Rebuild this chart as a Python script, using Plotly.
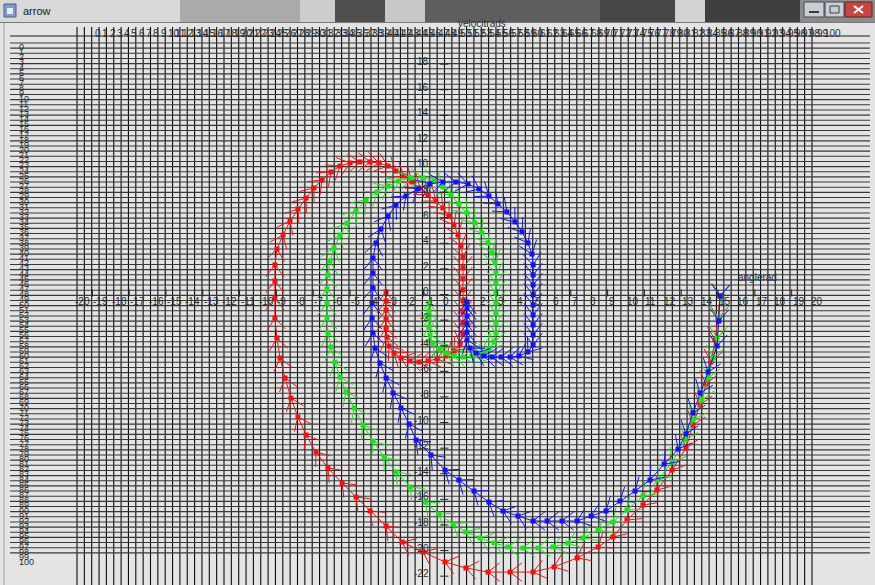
import math
import plotly.graph_objects as go

# Phase-space trajectories: angle (rad) against angular velocity (rad/s)
red_angle = [15.11, 15.0, 14.84, 14.62, 14.35, 14.02, 13.64, 13.26, 12.5, 11.68, 10.92, 10.05, 9.29, 8.48,
             7.34, 6.09, 4.95, 3.7, 2.5, 1.3, 0.16, -1.03, -2.17, -3.04, -3.91, -4.67, -5.43, -6.2, -6.85,
             -7.39, -7.83, -8.21, -8.53, -8.8, -8.97, -9.08, -9.08, -9.08, -9.08, -8.97, -8.64, -8.26, -7.83,
             -7.39, -6.96, -6.52, -6.03, -5.54, -5.0, -4.46, -3.91, -3.42, -2.93, -2.5, -2.07, -1.63, -1.2,
             -0.76, -0.33, 0.05, 0.38, 0.65, 0.87, 1.03, 1.14, 1.14, 1.14, 1.14, 1.14, 1.14, 1.14, 1.14,
             0.98, 0.65, 0.22, -0.27, -0.76, -1.25, -1.74, -2.23, -2.61, -2.88, -2.99, -3.04, -3.04, -3.04,
             -3.04, -3.04]
red_velocity = [-0.31, -2.03, -3.75, -5.47, -7.19, -8.83, -10.39, -12.19, -13.91, -15.47, -16.64, -17.81,
                -19.14, -19.92, -20.78, -21.48, -21.88, -21.88, -21.88, -21.56, -21.09, -20.31, -19.53,
                -18.28, -17.11, -16.02, -14.92, -13.75, -12.5, -11.17, -9.77, -8.28, -6.72, -5.16, -3.59,
                -2.03, -0.47, 0.86, 2.11, 3.36, 4.45, 5.55, 6.48, 7.34, 8.13, 8.75, 9.38, 9.84, 10.08, 10.16,
                10.16, 10.08, 9.84, 9.45, 9.06, 8.59, 8.13, 7.58, 7.11, 6.56, 5.94, 5.23, 4.45, 3.59, 2.73,
                1.88, 1.02, 0.16, -0.7, -1.56, -2.42, -3.28, -4.06, -4.61, -5.0, -5.23, -5.39, -5.47, -5.39,
                -5.16, -4.77, -4.22, -3.52, -2.81, -2.11, -1.41, -0.7, 0.0]

green_angle = [15.11, 15.05, 14.95, 14.73, 14.46, 14.13, 13.64, 13.21, 12.5, 11.74, 10.92, 10.05, 9.29,
               8.48, 7.66, 6.85, 6.03, 5.22, 4.4, 3.59, 2.83, 2.07, 1.3, 0.6, -0.16, -0.92, -1.74, -2.5,
               -3.15, -3.75, -4.29, -4.78, -5.22, -5.54, -5.82, -6.03, -6.2, -6.25, -6.25, -6.25, -6.2,
               -6.09, -5.87, -5.54, -5.16, -4.67, -4.13, -3.53, -2.93, -2.34, -1.68, -1.03, -0.43, 0.05,
               0.49, 0.92, 1.36, 1.79, 2.17, 2.5, 2.72, 2.88, 2.93, 2.93, 2.93, 2.93, 2.93, 2.93, 2.93,
               2.83, 2.55, 2.12, 1.63, 1.14, 0.65, 0.22, -0.16, -0.49, -0.65, -0.71, -0.71, -0.71, -0.71]
green_velocity = [-0.31, -2.03, -3.59, -5.16, -6.72, -8.44, -10.0, -11.56, -13.28, -14.69, -15.94, -17.03,
                  -17.97, -18.59, -19.22, -19.61, -19.92, -20.0, -20.0, -19.92, -19.61, -19.22, -18.75,
                  -18.13, -17.34, -16.41, -15.23, -14.06, -12.89, -11.64, -10.39, -9.06, -7.81, -6.64,
                  -5.47, -4.3, -3.2, -2.03, -0.86, 0.23, 1.33, 2.42, 3.44, 4.45, 5.39, 6.33, 7.19, 7.81,
                  8.28, 8.67, 8.91, 8.91, 8.67, 8.2, 7.58, 6.88, 6.17, 5.39, 4.61, 3.83, 3.05, 2.27, 1.48,
                  0.7, -0.08, -0.86, -1.64, -2.42, -3.2, -3.91, -4.45, -4.77, -5.0, -5.08, -5.0, -4.77,
                  -4.45, -3.98, -3.36, -2.73, -2.11, -1.48, -0.86]

blue_angle = [15.11, 15.05, 14.95, 14.46, 14.02, 13.64, 13.26, 12.83, 12.07, 11.3, 10.49, 9.67, 8.91, 8.1,
              7.34, 6.52, 5.71, 4.95, 4.13, 3.32, 2.55, 1.74, 0.92, 0.16, -0.6, -1.41, -1.79, -2.23, -2.66,
              -3.04, -3.37, -3.64, -3.75, -3.8, -3.8, -3.75, -3.75, -3.75, -3.59, -3.32, -2.93, -2.5,
              -1.96, -1.3, -0.65, 0.05, 0.76, 1.41, 2.01, 2.55, 3.04, 3.53, 3.97, 4.35, 4.67, 4.89, 4.95,
              4.95, 4.95, 4.95, 4.95, 4.95, 4.95, 4.95, 4.95, 4.67, 4.18, 3.7, 3.21, 2.72, 2.28, 1.85,
              1.52, 1.36, 1.36, 1.36, 1.36, 1.36, 1.36]
blue_velocity = [-0.31, -2.27, -4.22, -6.25, -7.89, -9.45, -11.09, -12.27, -13.44, -14.69, -15.55, -16.33,
                 -17.11, -17.5, -17.89, -17.89, -17.89, -17.89, -17.5, -17.11, -16.41, -15.55, -14.69,
                 -13.91, -12.73, -11.56, -10.31, -9.06, -7.89, -6.72, -5.55, -4.38, -3.2, -2.03, -0.86,
                 0.31, 1.48, 2.66, 3.83, 4.92, 5.94, 6.8, 7.5, 8.05, 8.44, 8.59, 8.59, 8.44, 8.05, 7.5,
                 6.88, 6.25, 5.47, 4.69, 3.83, 2.97, 2.11, 1.33, 0.55, -0.23, -1.02, -1.8, -2.58, -3.36,
                 -4.14, -4.69, -5.0, -5.08, -5.08, -5.08, -5.0, -4.77, -4.38, -3.75, -3.13, -2.5, -1.88,
                 -1.25, -0.78]

angle_ticks = list(range(-20, 21))
velocity_ticks = list(range(18, -23, -2))
column_labels = list(range(0, 101))
row_labels = list(range(0, 101))

W, H = 875, 585
X_RANGE = [-24.02, 23.53]
Y_RANGE = [-22.89, 22.81]
SX = W / (X_RANGE[1] - X_RANGE[0])   # pixels per radian
SY = H / (Y_RANGE[1] - Y_RANGE[0])   # pixels per rad/s

FONT = "Liberation Sans, Arial, sans-serif"
TEXT = "#2e2e2e"

shapes = []
annotations = []


def pxx(x):
    return x / W


def pxy(y):
    return 1 - y / H


def rect(x0, y0, x1, y1, fill, edge=None, layer="above"):
    shapes.append(dict(type="rect", xref="paper", yref="paper", x0=pxx(x0), x1=pxx(x1),
                       y0=pxy(y1), y1=pxy(y0), fillcolor=fill, layer=layer,
                       line=dict(width=1 if edge else 0, color=edge or fill)))


def seg(x0, y0, x1, y1, color, width=1, layer="below"):
    shapes.append(dict(type="line", xref="paper", yref="paper", x0=pxx(x0), y0=pxy(y0),
                       x1=pxx(x1), y1=pxy(y1), line=dict(color=color, width=width), layer=layer))


def text_at(x, y, text, size=10, color=TEXT, xanchor="left"):
    annotations.append(dict(xref="paper", yref="paper", x=pxx(x), y=pxy(y), text=text,
                            showarrow=False, xanchor=xanchor, yanchor="middle", borderpad=0,
                            font=dict(family=FONT, size=size, color=color)))


def chevrons(xs, ys, length=15.0, spread=math.radians(38)):
    """Open arrowheads at every sample, pointing along the direction of travel."""
    wx, wy = [], []
    for i in range(len(xs)):
        a, b = (i - 1, i) if i > 0 else (0, 1)
        dx = (xs[b] - xs[a]) * SX
        dy = (ys[b] - ys[a]) * SY
        n = math.hypot(dx, dy)
        if n == 0:
            continue
        bx, by = -dx / n, -dy / n
        for s in (1, -1):
            c, sn = math.cos(s * spread), math.sin(s * spread)
            rx = bx * c - by * sn
            ry = bx * sn + by * c
            wx += [xs[i], xs[i] + length * rx / SX, None]
            wy += [ys[i], ys[i] + length * ry / SY, None]
    return wx, wy


# ---- window frame and title bar ----
rect(0, 0, 875, 22, "#a8a8a8")
for x0, x1, c in [(0, 180, "#d9d9d9"), (180, 300, "#aaaaaa"), (300, 335, "#cdcdcd"),
                  (335, 385, "#4f4f4f"), (385, 425, "#c8c8c8"), (425, 600, "#5e5e5e"),
                  (600, 675, "#474747"), (675, 705, "#d2d2d2"), (705, 800, "#3f3f3f"),
                  (800, 875, "#8c8c8c")]:
    rect(x0, 0, x1, 22, c)
rect(4, 4, 16, 17, "#7f9ccc", edge="#4d5f80")
rect(7, 8, 13, 14, "#e8eef8")
text_at(22, 11, "arrow", size=11, color="#1a1a1a")
rect(804, 2, 824, 17, "#c9cdd5", edge="#4a4a4a")
rect(825, 2, 844, 17, "#c9cdd5", edge="#4a4a4a")
rect(845, 2, 872, 17, "#c8463d", edge="#5a2520")
seg(809, 12, 819, 12, "#3a3a3a", 2, layer="above")
rect(830, 6, 839, 13, "rgba(0,0,0,0)", edge="#3a3a3a")
seg(854, 6, 863, 13, "#ffffff", 2, layer="above")
seg(863, 6, 854, 13, "#ffffff", 2, layer="above")
seg(0, 22.5, 875, 22.5, "#7a7a7a", 1, layer="above")
seg(4, 23, 4, 585, "#9a9a9a", 1)

# ---- table grid ----
for k in range(101):
    gx = 77 + 7.35 * k
    seg(gx, 27, gx, 585, "#0c0c0c", 1.1)
seg(10, 36, 870, 36, "#1c1c1c", 1.2)
for k in range(100):
    gy = 43 + 5.15 * k
    seg(10, gy, 870, gy, "#383838", 1.1)

for k in column_labels:
    text_at(94 + 7.29 * k, 33, str(k), size=10)
for k in row_labels:
    text_at(18, 47 + 5.15 * k, str(k), size=9)

text_at(457, 24, "velocitrads", size=10)
text_at(737, 277, "anglerad", size=10)

# ---- phase-plane axes ----
for v in angle_ticks:
    annotations.append(dict(xref="x", yref="y", x=v, y=0, text=str(v), showarrow=False,
                            xanchor="left", yanchor="middle", yshift=-10, borderpad=0,
                            font=dict(family=FONT, size=10, color=TEXT)))
    if v % 2:
        shapes.append(dict(type="line", xref="x", yref="y", x0=v, x1=v, y0=0.2, y1=-0.35,
                           line=dict(color="#202020", width=1), layer="above"))
for v in velocity_ticks:
    annotations.append(dict(xref="x", yref="y", x=0, y=v, text=str(v), showarrow=False,
                            xanchor="right", yanchor="middle", xshift=-12, borderpad=0,
                            font=dict(family=FONT, size=10, color=TEXT)))
    shapes.append(dict(type="line", xref="x", yref="y", x0=-0.1, x1=0.35, y0=v - 0.2, y1=v - 0.2,
                       line=dict(color="#202020", width=1), layer="above"))

fig = go.Figure()
series = [("#ee1414", red_angle, red_velocity),
          ("#1ee01e", green_angle, green_velocity),
          ("#1414ee", blue_angle, blue_velocity)]
for color, xs, ys in series:
    wx, wy = chevrons(xs, ys)
    fig.add_trace(go.Scatter(x=wx, y=wy, mode="lines", line=dict(color=color, width=1),
                             hoverinfo="skip", showlegend=False))
    fig.add_trace(go.Scatter(x=xs, y=ys, mode="lines+markers", line=dict(color=color, width=1),
                             marker=dict(symbol="square", size=5, color=color, line=dict(width=0)),
                             showlegend=False))

fig.update_layout(
    width=W, height=H, margin=dict(l=0, r=0, t=0, b=0),
    paper_bgcolor="#e4e4e4", plot_bgcolor="#e4e4e4",
    xaxis=dict(range=X_RANGE, visible=False, fixedrange=True),
    yaxis=dict(range=Y_RANGE, visible=False, fixedrange=True),
    shapes=shapes, annotations=annotations, showlegend=False,
)
fig.write_html("out.html")
